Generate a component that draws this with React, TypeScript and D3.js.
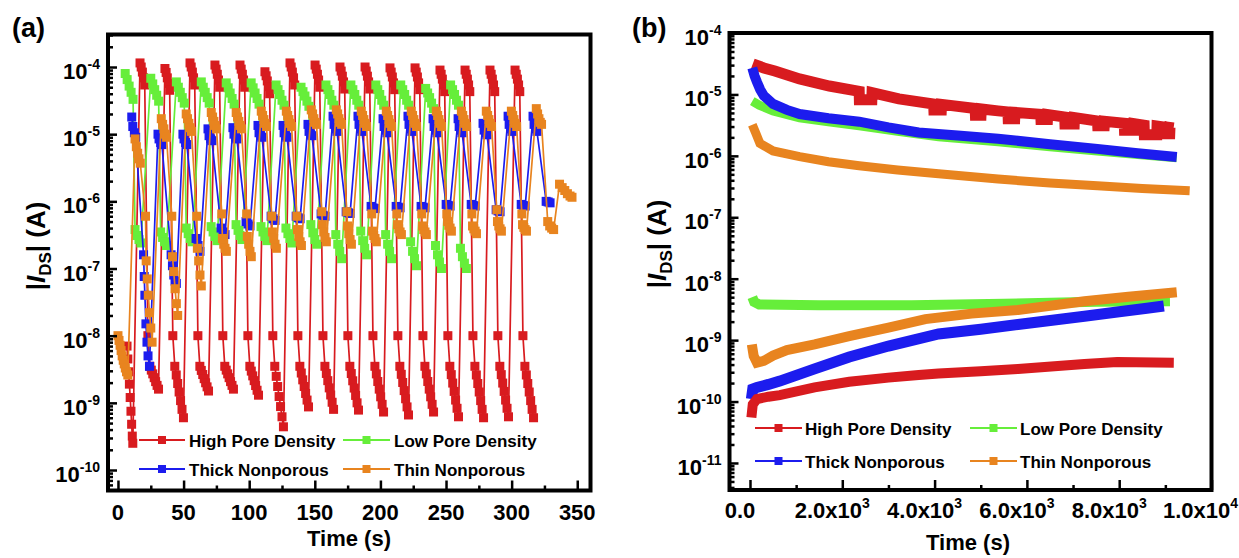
import React, { useRef, useEffect } from "react";
import * as d3 from "d3";

type Pt = [number, number];

// ---------- panel (a): switching cycles, time (s) vs |I_DS| (A)
const highPoreA: Pt[] = [
  [6.9,7e-9],[7.5,4.5e-9],[8.1,2.9e-9],[8.7,1.9e-9],[9.3,1.2e-9],[9.9,7.5e-10],[10.4,4.8e-10],[10.9,3.2e-10],[11.3,2.5e-10],
  [16.8,1.15e-4],[17.7,1e-4],[18.6,8.4e-5],[19.5,6.9e-5],[20.4,5.4e-5],[22.8,1e-8],[24.3,3.5e-9],[25.4,3.07e-9],[26.5,2.7e-9],[27.6,2.37e-9],[28.7,2.07e-9],[29.8,1.82e-9],[30.9,1.6e-9],
  [35.8,9.5e-5],[36.7,8.3e-5],[37.6,6.9e-5],[38.5,5.7e-5],[39.4,4.5e-5],[41.8,1e-8],[43.3,3.5e-9],[44.4,2.6e-9],[45.5,1.94e-9],[46.6,1.45e-9],[47.7,1.08e-9],[48.8,8e-10],[49.9,6e-10],
  [54.9,1.15e-4],[55.8,1e-4],[56.7,8.4e-5],[57.6,6.9e-5],[58.5,5.4e-5],[60.9,1e-8],[62.4,3.5e-9],[63.5,3.04e-9],[64.6,2.64e-9],[65.7,2.29e-9],[66.8,1.99e-9],[67.9,1.73e-9],[69.0,1.5e-9],
  [73.9,1.07e-4],[74.8,9.3e-5],[75.7,7.8e-5],[76.6,6.4e-5],[77.5,5e-5],[79.9,1e-8],[81.4,3.5e-9],[82.5,3.07e-9],[83.6,2.7e-9],[84.7,2.37e-9],[85.8,2.07e-9],[86.9,1.82e-9],[88.0,1.6e-9],
  [93.0,1.07e-4],[93.9,9.3e-5],[94.8,7.8e-5],[95.7,6.4e-5],[96.6,5e-5],[99.0,1e-8],[100.5,3.5e-9],[101.6,2.97e-9],[102.7,2.52e-9],[103.8,2.14e-9],[104.9,1.81e-9],[106.0,1.54e-9],[107.1,1.3e-9],
  [112.0,8.5e-5],[112.9,7.4e-5],[113.8,6.2e-5],[114.7,5.1e-5],[115.6,4e-5],[118.0,1e-8],[119.5,3.5e-9],[120.6,2.48e-9],[121.7,1.75e-9],[122.8,1.24e-9],[123.9,8.8e-10],[125.0,6.2e-10],[126.1,4.4e-10],
  [131.1,1.15e-4],[132.0,1e-4],[132.9,8.4e-5],[133.8,6.9e-5],[134.7,5.4e-5],[137.1,1e-8],[138.6,3.5e-9],[139.7,2.78e-9],[140.8,2.2e-9],[141.9,1.75e-9],[143.0,1.38e-9],[144.1,1.1e-9],[145.2,8.7e-10],
  [150.2,1.07e-4],[151.1,9.3e-5],[152.0,7.8e-5],[152.9,6.4e-5],[153.8,5e-5],[156.2,1e-8],[157.7,3.5e-9],[158.8,2.74e-9],[159.9,2.14e-9],[161.0,1.67e-9],[162.1,1.31e-9],[163.2,1.02e-9],[164.3,8e-10],
  [169.2,1e-4],[170.1,8.7e-5],[171.0,7.3e-5],[171.9,6e-5],[172.8,4.7e-5],[175.2,1e-8],[176.7,3.5e-9],[177.8,2.73e-9],[178.9,2.13e-9],[180.0,1.66e-9],[181.1,1.29e-9],[182.2,1e-9],[183.3,7.8e-10],
  [188.3,1e-4],[189.2,8.7e-5],[190.1,7.3e-5],[191.0,6e-5],[191.9,4.7e-5],[194.3,1e-8],[195.8,3.5e-9],[196.9,2.7e-9],[198.0,2.08e-9],[199.1,1.6e-9],[200.2,1.23e-9],[201.3,9.5e-10],[202.4,7.3e-10],
  [207.3,9.7e-5],[208.2,8.4e-5],[209.1,7.1e-5],[210.0,5.8e-5],[210.9,4.6e-5],[213.3,1e-8],[214.8,3.5e-9],[215.9,2.66e-9],[217.0,2.01e-9],[218.1,1.52e-9],[219.2,1.15e-9],[220.3,8.7e-10],[221.4,6.6e-10],
  [226.4,9.7e-5],[227.3,8.4e-5],[228.2,7.1e-5],[229.1,5.8e-5],[230.0,4.6e-5],[232.4,1e-8],[233.9,3.5e-9],[235.0,2.7e-9],[236.1,2.08e-9],[237.2,1.6e-9],[238.3,1.23e-9],[239.4,9.5e-10],[240.5,7.3e-10],
  [245.4,9e-5],[246.3,7.8e-5],[247.2,6.6e-5],[248.1,5.4e-5],[249.0,4.3e-5],[251.4,1e-8],[252.9,3.5e-9],[254.0,2.63e-9],[255.1,1.97e-9],[256.2,1.48e-9],[257.3,1.1e-9],[258.4,8.3e-10],[259.5,6.2e-10],
  [264.5,9e-5],[265.4,7.8e-5],[266.3,6.6e-5],[267.2,5.4e-5],[268.1,4.3e-5],[270.5,1e-8],[272.0,3.5e-9],[273.1,2.6e-9],[274.2,1.94e-9],[275.3,1.45e-9],[276.4,1.08e-9],[277.5,8e-10],[278.6,6e-10],
  [283.5,9e-5],[284.4,7.8e-5],[285.3,6.6e-5],[286.2,5.4e-5],[287.1,4.3e-5],[289.5,1e-8],[291.0,3.5e-9],[292.1,2.63e-9],[293.2,1.97e-9],[294.3,1.48e-9],[295.4,1.1e-9],[296.5,8.3e-10],[297.6,6.2e-10],
  [302.6,9e-5],[303.5,7.8e-5],[304.4,6.6e-5],[305.3,5.4e-5],[306.2,4.3e-5],[308.6,1e-8],[310.1,3.5e-9],[311.2,2.6e-9],[312.3,1.94e-9],[313.4,1.45e-9],[314.5,1.08e-9],[315.6,8e-10],[316.7,6e-10],
];

const lowPoreA: Pt[] = [
  [5.5,8e-5],[7.0,6.5e-5],[8.5,5.2e-5],[10.0,4.2e-5],[11.5,3.3e-5],[13.0,3.8e-7],[14.5,3.1e-7],[16.0,2.7e-7],[17.5,2.4e-7],
  [25.0,6.8e-5],[26.5,5.6e-5],[28.0,4.6e-5],[29.5,3.8e-5],[31.0,3.1e-5],[32.5,3.5e-7],[34.0,2.9e-7],[35.5,2.5e-7],[37.0,2.2e-7],
  [44.5,6e-5],[46.0,5e-5],[47.5,4.2e-5],[49.0,3.5e-5],[50.5,2.9e-5],[52.0,4e-7],[53.5,3.3e-7],[55.0,2.8e-7],[56.5,2.5e-7],
  [63.5,6e-5],[65.0,5e-5],[66.5,4.2e-5],[68.0,3.5e-5],[69.5,2.9e-5],[71.0,4.2e-7],[72.5,3.5e-7],[74.0,3e-7],[75.5,2.6e-7],
  [82.5,5.8e-5],[84.0,4.9e-5],[85.5,4.1e-5],[87.0,3.4e-5],[88.5,2.8e-5],[90.0,4.5e-7],[91.5,3.7e-7],[93.0,3.1e-7],[94.5,2.7e-7],
  [101.5,5.8e-5],[103.0,4.9e-5],[104.5,4.1e-5],[106.0,3.4e-5],[107.5,2.8e-5],[109.0,4.2e-7],[110.5,3.5e-7],[112.0,3e-7],[113.5,2.6e-7],
  [120.5,5.4e-5],[122.0,4.6e-5],[123.5,3.9e-5],[125.0,3.2e-5],[126.5,2.7e-5],[128.0,4e-7],[129.5,3.3e-7],[131.0,2.8e-7],[132.5,2.4e-7],
  [139.5,5e-5],[141.0,4.3e-5],[142.5,3.7e-5],[144.0,3.1e-5],[145.5,2.6e-5],[147.0,4.5e-7],[148.5,3.4e-7],[150.0,2.7e-7],[151.5,2.3e-7],
  [158.5,5.4e-5],[160.0,4.6e-5],[161.5,3.9e-5],[163.0,3.2e-5],[164.5,2.7e-5],[166.0,3.2e-7],[167.5,2.3e-7],[169.0,1.8e-7],[170.5,1.4e-7],
  [177.5,5.4e-5],[179.0,4.6e-5],[180.5,3.9e-5],[182.0,3.2e-5],[183.5,2.7e-5],[185.0,3.6e-7],[186.5,2.6e-7],[188.0,2e-7],[189.5,1.6e-7],
  [196.5,5.4e-5],[198.0,4.6e-5],[199.5,3.9e-5],[201.0,3.2e-5],[202.5,2.7e-5],[204.0,3.2e-7],[205.5,2.3e-7],[207.0,1.8e-7],[208.5,1.4e-7],
  [215.5,5.4e-5],[217.0,4.6e-5],[218.5,3.9e-5],[220.0,3.2e-5],[221.5,2.7e-5],[223.0,2.5e-7],[224.5,1.8e-7],[226.0,1.4e-7],[227.5,1.1e-7],
  [234.5,4.8e-5],[236.0,4.1e-5],[237.5,3.5e-5],[239.0,2.9e-5],[240.5,2.4e-5],[242.0,2.2e-7],[243.5,1.6e-7],[245.0,1.25e-7],[246.5,1e-7],
  [253.5,5.4e-5],[255.0,4.6e-5],[256.5,3.9e-5],[258.0,3.2e-5],[259.5,2.7e-5],[261.0,2e-7],[262.5,1.5e-7],[264.0,1.2e-7],[265.5,1e-7],
];

const thickA: Pt[] = [
  [10.5,1.8e-5],[11.3,1.3e-5],[12.5,1.05e-5],[13.5,9e-6],[19.5,1.6e-7],[20.0,7.6e-8],[20.5,4e-8],[21.3,1.5e-8],[22.1,8e-9],[22.9,5e-9],[24.0,3.5e-9],
  [30.5,1e-5],[31.3,8.5e-6],[32.5,7.5e-6],[33.5,7e-6],[40.5,1.6e-7],[41.5,1.1e-7],[42.5,8e-8],[43.5,6.5e-8],[44.5,6e-8],
  [49.5,1e-5],[50.3,8.5e-6],[51.5,7.5e-6],[52.5,7e-6],[59.5,2.8e-7],[61.0,2.2e-7],[62.5,1.8e-7],
  [68.6,1.2e-5],[69.4,9.5e-6],[70.6,8.5e-6],[71.6,8e-6],[78.6,4e-7],[80.1,3.5e-7],[81.6,3.2e-7],
  [87.6,1.25e-5],[88.4,1e-5],[89.6,9e-6],[90.6,8.5e-6],[97.6,5e-7],[99.1,4.6e-7],[100.6,4.3e-7],
  [106.7,1.35e-5],[107.5,1.05e-5],[108.7,9.5e-6],[109.7,9e-6],[116.7,6e-7],[118.2,5.5e-7],[119.7,5.2e-7],
  [125.8,1.35e-5],[126.6,1.05e-5],[127.8,9.5e-6],[128.8,9e-6],[135.8,6e-7],[137.3,5.7e-7],[138.8,5.5e-7],
  [144.8,1.4e-5],[145.6,1.1e-5],[146.8,1e-5],[147.8,9.5e-6],[154.8,6.5e-7],[156.3,6.2e-7],[157.8,6e-7],
  [163.9,1.85e-5],[164.7,1.4e-5],[165.9,1.2e-5],[166.9,1.1e-5],[173.9,7e-7],[175.4,6.8e-7],[176.9,6.6e-7],
  [182.9,1.85e-5],[183.7,1.4e-5],[184.9,1.2e-5],[185.9,1.1e-5],[192.9,8.4e-7],[194.4,8e-7],[195.9,7.8e-7],
  [202.0,1.7e-5],[202.8,1.3e-5],[204.0,1.15e-5],[205.0,1.05e-5],[212.0,8.4e-7],[213.5,8.2e-7],[215.0,8e-7],
  [221.0,1.85e-5],[221.8,1.4e-5],[223.0,1.2e-5],[224.0,1.1e-5],[231.0,8.4e-7],[232.5,8.2e-7],[234.0,8e-7],
  [240.1,1.7e-5],[240.9,1.3e-5],[242.1,1.15e-5],[243.1,1.05e-5],[250.1,9e-7],[251.6,8.7e-7],[253.1,8.5e-7],
  [259.2,1.7e-5],[260.0,1.3e-5],[261.2,1.15e-5],[262.2,1.05e-5],[269.2,9e-7],[270.7,8.7e-7],[272.2,8.5e-7],
  [278.2,1.45e-5],[279.0,1.15e-5],[280.2,1.05e-5],[281.2,9.8e-6],[288.2,7.5e-7],[289.7,7.2e-7],[291.2,7e-7],
  [297.3,1.85e-5],[298.1,1.4e-5],[299.3,1.2e-5],[300.3,1.1e-5],[307.3,9e-7],[308.8,8.7e-7],[310.3,8.5e-7],
  [316.3,1.85e-5],[317.1,1.4e-5],[318.3,1.2e-5],[319.3,1.1e-5],[326.3,1e-6],[327.8,9.8e-7],[329.3,9.5e-7],
];

const thinA: Pt[] = [
  [0,1e-8],[0.8,8.5e-9],[1.6,7.2e-9],[2.4,6e-9],[3.2,5e-9],[4.0,4.3e-9],[4.8,3.8e-9],[5.6,3.3e-9],[6.5,2.9e-9],[7.5,2.6e-9],
  [13.0,8.5e-6],[14.0,6.5e-6],[15.0,5.2e-6],[16.0,4.3e-6],[17.0,3.7e-6],[21.0,6e-7],[21.5,1.3e-7],[22.3,7e-8],[23.1,4e-8],[24.0,2.2e-8],[25.0,1.3e-8],[26.0,8e-9],
  [33.0,1.7e-5],[34.0,1.4e-5],[35.0,1.2e-5],[36.0,1e-5],[37.0,9e-6],[41.0,6e-7],[41.5,1.5e-7],[42.5,9e-8],[43.5,5e-8],[44.5,3e-8],[45.5,2e-8],
  [52.0,2e-5],[53.0,1.7e-5],[54.0,1.45e-5],[55.0,1.25e-5],[56.0,1.1e-5],[60.0,6e-7],[60.5,2e-7],[61.5,1.3e-7],[62.5,8e-8],[63.5,5.5e-8],
  [71.1,2.1e-5],[72.1,1.8e-5],[73.1,1.55e-5],[74.1,1.35e-5],[75.1,1.2e-5],[79.1,6.5e-7],[79.6,2.8e-7],[80.6,2.3e-7],[81.6,2e-7],[82.6,1.8e-7],
  [90.1,2.1e-5],[91.1,1.8e-5],[92.1,1.55e-5],[93.1,1.35e-5],[94.1,1.2e-5],[98.1,6.5e-7],[98.6,3e-7],[99.6,2.3e-7],[100.6,1.8e-7],[101.6,1.5e-7],
  [109.2,2.2e-5],[110.2,1.9e-5],[111.2,1.65e-5],[112.2,1.45e-5],[113.2,1.3e-5],[117.2,6e-7],[117.7,3.5e-7],[118.7,2.8e-7],[119.7,2.3e-7],[120.7,2e-7],
  [128.3,2.2e-5],[129.3,1.9e-5],[130.3,1.65e-5],[131.3,1.45e-5],[132.3,1.3e-5],[136.3,6e-7],[136.8,3.8e-7],[137.8,3e-7],[138.8,2.5e-7],[139.8,2.2e-7],
  [147.3,2.3e-5],[148.3,2e-5],[149.3,1.7e-5],[150.3,1.5e-5],[151.3,1.4e-5],[155.3,7e-7],[155.8,4.5e-7],[156.8,3.5e-7],[157.8,2.9e-7],[158.8,2.5e-7],
  [166.4,2.3e-5],[167.4,2e-5],[168.4,1.7e-5],[169.4,1.5e-5],[170.4,1.4e-5],[174.4,7e-7],[174.9,4.3e-7],[175.9,3.3e-7],[176.9,2.7e-7],[177.9,2.3e-7],
  [185.4,2.2e-5],[186.4,1.9e-5],[187.4,1.65e-5],[188.4,1.45e-5],[189.4,1.3e-5],[193.4,6.5e-7],[193.9,3.6e-7],[194.9,3.1e-7],[195.9,2.8e-7],[196.9,2.5e-7],
  [204.5,2.2e-5],[205.5,1.9e-5],[206.5,1.65e-5],[207.5,1.45e-5],[208.5,1.3e-5],[212.5,6.5e-7],[213.0,4.5e-7],[214.0,3.9e-7],[215.0,3.5e-7],[216.0,3.2e-7],
  [223.5,2.2e-5],[224.5,1.9e-5],[225.5,1.65e-5],[226.5,1.45e-5],[227.5,1.3e-5],[231.5,6.5e-7],[232.0,4.3e-7],[233.0,3.8e-7],[234.0,3.5e-7],[235.0,3.2e-7],
  [242.6,2.2e-5],[243.6,1.9e-5],[244.6,1.65e-5],[245.6,1.45e-5],[246.6,1.3e-5],[250.6,6.5e-7],[251.1,5e-7],[252.1,4.4e-7],[253.1,4e-7],[254.1,3.6e-7],
  [261.7,2.2e-5],[262.7,1.9e-5],[263.7,1.65e-5],[264.7,1.45e-5],[265.7,1.3e-5],[269.7,6.5e-7],[270.2,4.3e-7],[271.2,3.9e-7],[272.2,3.6e-7],[273.2,3.3e-7],
  [280.7,2.2e-5],[281.7,1.9e-5],[282.7,1.65e-5],[283.7,1.45e-5],[284.7,1.3e-5],[288.7,7.5e-7],[289.2,5e-7],[290.2,4.3e-7],[291.2,3.9e-7],[292.2,3.6e-7],
  [299.8,2.2e-5],[300.8,1.9e-5],[301.8,1.65e-5],[302.8,1.45e-5],[303.8,1.3e-5],[307.8,6.5e-7],[308.3,4.5e-7],[309.3,4.1e-7],[310.3,3.8e-7],[311.3,3.6e-7],
  [318.8,2.4e-5],[319.8,2e-5],[320.8,1.7e-5],[321.8,1.5e-5],[322.8,1.4e-5],[327.5,5e-7],[329.0,4.3e-7],[330.5,4e-7],[332.0,3.8e-7],
  [336.5,1.8e-6],[338.5,1.6e-6],[340.5,1.45e-6],[342.5,1.3e-6],[344.5,1.2e-6],[346.0,1.15e-6],
];

// ---------- panel (b): long retention, upper (on) and lower (off) branches
const highPoreOnB: Pt[] = [
  [60,3.15e-5],[300,2.7e-5],[538,2.4e-5],[1075,1.79e-5],[1720,1.37e-5],[2366,1.12e-5],[2370,8.2e-6],[2640,8.2e-6],[2645,1.07e-5],
  [3226,8.45e-6],[3980,7e-6],[3985,5.6e-6],[4145,5.6e-6],[4150,6.9e-6],[4880,5.9e-6],[4885,4.6e-6],[5005,4.6e-6],[5010,5.8e-6],
  [5376,5.4e-6],[5590,5.2e-6],[5595,4e-6],[5735,4e-6],[5740,5.1e-6],[6300,4.75e-6],[6305,3.9e-6],[6445,3.9e-6],[6450,4.7e-6],
  [6820,4.3e-6],[6825,3.3e-6],[7025,3.3e-6],[7030,4.2e-6],[7530,3.7e-6],[7535,3.1e-6],[7675,3.1e-6],[7680,3.65e-6],
  [8110,3.4e-6],[8115,2.6e-6],[8315,2.6e-6],[8320,3.35e-6],[8540,3.15e-6],[8545,2.2e-6],[8815,2.2e-6],[8820,3.05e-6],
  [8970,2.95e-6],[8975,2.3e-6],[9095,2.3e-6],[9100,2.9e-6],[9180,2.85e-6],
];
const lowPoreOnB: Pt[] = [
  [50,7.8e-6],[200,6.7e-6],[500,5.4e-6],[1075,4.15e-6],[1700,3.6e-6],[2366,3.1e-6],[3200,2.5e-6],[4086,2.04e-6],
  [5376,1.7e-6],[6500,1.4e-6],[7527,1.2e-6],[8400,1.05e-6],[9247,9.3e-7],
];
const thickOnB: Pt[] = [
  [50,2.7e-5],[100,2e-5],[150,1.6e-5],[220,1.2e-5],[300,9.5e-6],[500,7e-6],[800,5.6e-6],[1075,4.8e-6],[1700,4.1e-6],
  [2366,3.6e-6],[3000,2.9e-6],[3655,2.4e-6],[4500,2.15e-6],[5376,1.9e-6],[6500,1.55e-6],[7527,1.3e-6],[8400,1.1e-6],[9247,9.6e-7],
];
const thinOnB: Pt[] = [
  [50,3.2e-6],[120,2.4e-6],[215,1.6e-6],[500,1.2e-6],[1075,9.7e-7],[1700,8e-7],[2366,6.9e-7],[3200,5.9e-7],[4086,5.1e-7],
  [5376,4.2e-7],[6500,3.6e-7],[7527,3.25e-7],[8500,2.95e-7],[9527,2.7e-7],
];
const highPoreOffB: Pt[] = [
  [30,5.5e-11],[60,9e-11],[150,1.1e-10],[400,1.2e-10],[645,1.27e-10],[1400,1.7e-10],[2150,2.1e-10],[3000,2.45e-10],
  [3656,2.7e-10],[4086,2.85e-10],[5000,3.1e-10],[5806,3.4e-10],[7247,4.1e-10],[7957,4.4e-10],[9183,4.3e-10],
];
const lowPoreOffB: Pt[] = [
  [50,5e-9],[90,4.2e-9],[200,3.8e-9],[1500,3.7e-9],[3500,3.7e-9],[5500,3.9e-9],[7500,4.2e-9],[9100,4.3e-9],
];
const thickOffB: Pt[] = [
  [30,1.1e-10],[60,1.6e-10],[150,1.7e-10],[400,1.9e-10],[645,2.15e-10],[1400,3.4e-10],[2150,5.3e-10],[3000,8e-10],
  [4086,1.26e-9],[5000,1.5e-9],[5806,1.8e-9],[7247,2.45e-9],[8000,2.9e-9],[8600,3.3e-9],[8968,3.6e-9],
];
const thinOffB: Pt[] = [
  [40,8.5e-10],[80,5.5e-10],[150,4.3e-10],[300,4.6e-10],[500,5.6e-10],[800,6.9e-10],[1400,8.5e-10],[2150,1.16e-9],[3000,1.6e-9],
  [3800,2.2e-9],[4800,2.7e-9],[5806,3.1e-9],[7247,4.3e-9],[8200,5.1e-9],[9247,6e-9],
];

const seriesNames = ["High Pore Density", "Low Pore Density", "Thick Nonporous", "Thin Nonporous"];
const seriesColors = ["#d81b1f", "#66ee3a", "#1c1cee", "#e8841f"];

const xTicksA = [0, 50, 100, 150, 200, 250, 300, 350];
const xMinorA = [25, 75, 125, 175, 225, 275, 325];
const yExpA = [-4, -5, -6, -7, -8, -9, -10];

const xTicksB = [0, 2000, 4000, 6000, 8000, 10000];
const xMinorB = [1000, 3000, 5000, 7000, 9000];
const xLabelsB = [["0.0", ""], ["2.0x10", "3"], ["4.0x10", "3"], ["6.0x10", "3"], ["8.0x10", "3"], ["1.0x10", "4"]];
const yExpB = [-4, -5, -6, -7, -8, -9, -10, -11];

const FONT = "'Liberation Sans', Arial, Helvetica, sans-serif";

const minorLog = (lo, hi) => {
  const out = [];
  for (let e = Math.floor(Math.log10(lo)); e <= Math.ceil(Math.log10(hi)); e++) {
    for (let m = 2; m <= 9; m++) {
      const v = m * Math.pow(10, e);
      if (v > lo && v < hi) out.push(v);
    }
  }
  return out;
};

const App = () => {
  const container = useRef(null);

  useEffect(() => {
    const svg = d3.select(container.current);
    svg.selectAll("*").remove();
    svg.append("rect").attr("width", 1239).attr("height", 558).attr("fill", "#fff");

    // draws ticks, frame, tick labels of one panel
    const drawAxes = (x, y, box, xMajor, xMinor, yExps) => {
      const [l, t, r, b] = box;
      const g = svg.append("g").attr("font-family", FONT);
      const yDom = y.domain();

      g.append("g")
        .attr("transform", `translate(0,${b})`)
        .call(d3.axisBottom(x).tickValues(xMajor).tickSizeInner(-10).tickSizeOuter(0).tickFormat(() => ""));
      g.append("g")
        .attr("transform", `translate(0,${b})`)
        .call(d3.axisBottom(x).tickValues(xMinor).tickSizeInner(-5).tickSizeOuter(0).tickFormat(() => ""));
      g.append("g")
        .attr("transform", `translate(${l},0)`)
        .call(d3.axisLeft(y).tickValues(yExps.map((e) => Math.pow(10, e))).tickSizeInner(-9).tickSizeOuter(0).tickFormat(() => ""));
      g.append("g")
        .attr("transform", `translate(${l},0)`)
        .call(d3.axisLeft(y).tickValues(minorLog(yDom[0], yDom[1])).tickSizeInner(-5).tickSizeOuter(0).tickFormat(() => ""));
      g.selectAll(".domain").remove();
      g.selectAll(".tick line").attr("stroke", "#000").attr("stroke-width", 2.5);

      g.append("rect")
        .attr("x", l).attr("y", t).attr("width", r - l).attr("height", b - t)
        .attr("fill", "none").attr("stroke", "#000").attr("stroke-width", 4);

      yExps.forEach((e) => {
        const txt = g.append("text")
          .attr("x", l - 8).attr("y", y(Math.pow(10, e)) + 12)
          .attr("text-anchor", "end").attr("font-size", 22).attr("font-weight", "bold");
        txt.append("tspan").text("10");
        txt.append("tspan").attr("dy", -10).attr("font-size", 14).text(e);
      });
    };

    const drawLegend = (cols, rows) => {
      const g = svg.append("g").attr("font-family", FONT);
      seriesNames.forEach((name, i) => {
        const c = cols[i % 2];
        const yy = rows[Math.floor(i / 2)];
        g.append("line").attr("x1", c[0]).attr("x2", c[1]).attr("y1", yy).attr("y2", yy)
          .attr("stroke", seriesColors[i]).attr("stroke-width", 2.2);
        g.append("rect").attr("x", (c[0] + c[1]) / 2 - 4).attr("y", yy - 4).attr("width", 8).attr("height", 8)
          .attr("fill", seriesColors[i]);
        g.append("text").attr("x", c[2]).attr("y", yy + 7).attr("font-size", 17).attr("font-weight", "bold")
          .text(name);
      });
    };

    const yTitle = (cx, cy) => {
      const t = svg.append("text").attr("font-family", FONT)
        .attr("transform", `translate(${cx},${cy}) rotate(-90)`)
        .attr("text-anchor", "middle").attr("font-size", 26).attr("font-weight", "bold");
      t.append("tspan").text("|");
      t.append("tspan").attr("font-style", "italic").text("I");
      t.append("tspan").attr("font-size", 17).attr("dy", 6).text("DS");
      t.append("tspan").attr("dy", -6).text("| (A)");
    };

    // ---------- panel (a)
    const boxA = [108, 34.5, 590.5, 490.5];
    const xA = d3.scaleLinear().domain([-7.6, 360.1]).range([boxA[0], boxA[2]]);
    const yA = d3.scaleLog().domain([Math.pow(10, -10.305), Math.pow(10, -3.516)]).range([boxA[3], boxA[1]]);
    const lineA = d3.line().x((d) => xA(d[0])).y((d) => yA(d[1]));
    const ms = 9;

    [highPoreA, lowPoreA, thickA, thinA].forEach((data, i) => {
      svg.append("path").datum(data).attr("d", lineA).attr("fill", "none")
        .attr("stroke", seriesColors[i]).attr("stroke-width", 1.7);
      svg.append("g").selectAll("rect").data(data).join("rect")
        .attr("x", (d) => xA(d[0]) - ms / 2).attr("y", (d) => yA(d[1]) - ms / 2)
        .attr("width", ms).attr("height", ms).attr("fill", seriesColors[i]);
    });

    drawAxes(xA, yA, boxA, xTicksA, xMinorA, yExpA);
    svg.append("g").attr("font-family", FONT).selectAll("text").data(xTicksA).join("text")
      .attr("x", (d) => xA(d)).attr("y", 520).attr("text-anchor", "middle")
      .attr("font-size", 22).attr("font-weight", "bold").text((d) => d);
    drawLegend([[139, 185, 189], [343, 390, 394]], [440, 469]);

    // ---------- panel (b)
    const boxB = [729.5, 33, 1211.5, 490];
    const xB = d3.scaleLinear().domain([-444, 10000]).range([boxB[0], boxB[2]]);
    const yB = d3.scaleLog().domain([Math.pow(10, -11.44), 1e-4]).range([boxB[3], boxB[1]]);
    const lineB = d3.line().x((d) => xB(d[0])).y((d) => yB(d[1]));

    const bSeries = [
      [highPoreOnB, 0, 11], [lowPoreOnB, 1, 9], [thickOnB, 2, 10], [thinOnB, 3, 9],
      [lowPoreOffB, 1, 10], [thinOffB, 3, 10], [thickOffB, 2, 11], [highPoreOffB, 0, 10],
    ];
    bSeries.forEach(([data, ci, w]) => {
      svg.append("path").datum(data).attr("d", lineB).attr("fill", "none")
        .attr("stroke", seriesColors[ci]).attr("stroke-width", w).attr("stroke-linejoin", "miter");
    });

    drawAxes(xB, yB, boxB, xTicksB, xMinorB, yExpB);
    const lb = svg.append("g").attr("font-family", FONT);
    xTicksB.forEach((v, i) => {
      const last = i === xTicksB.length - 1;
      const t = lb.append("text")
        .attr("x", last ? 1238 : xB(v) - 10).attr("y", 518)
        .attr("text-anchor", last ? "end" : "middle")
        .attr("font-size", 22).attr("font-weight", "bold");
      t.append("tspan").text(xLabelsB[i][0]);
      if (xLabelsB[i][1]) t.append("tspan").attr("dy", -10).attr("font-size", 14).text(xLabelsB[i][1]);
    });
    drawLegend([[755, 802, 805], [970, 1017, 1020]], [428, 461]);

    // ---------- titles
    const tg = svg.append("g").attr("font-family", FONT).attr("font-weight", "bold");
    tg.append("text").attr("x", 349).attr("y", 546).attr("text-anchor", "middle").attr("font-size", 22).text("Time (s)");
    tg.append("text").attr("x", 968).attr("y", 550).attr("text-anchor", "middle").attr("font-size", 22).text("Time (s)");
    tg.append("text").attr("x", 12).attr("y", 37).attr("font-size", 27).text("(a)");
    tg.append("text").attr("x", 632).attr("y", 37).attr("font-size", 27).text("(b)");
    yTitle(45, 246);
    yTitle(666, 244);
  }, []);

  return (
    <svg
      ref={container}
      width={1239}
      height={558}
      style={{ position: "absolute", left: 0, top: 0 }}
    />
  );
};

export default App;
